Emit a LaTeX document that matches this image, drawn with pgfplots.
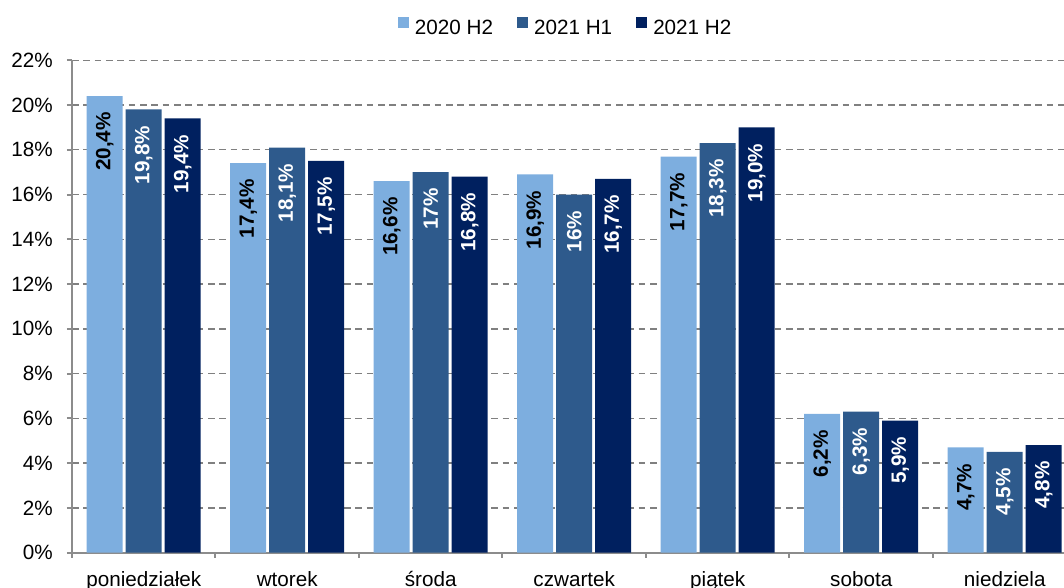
\documentclass[border=0pt]{standalone}
\usepackage{fontspec}
\setmainfont{Liberation Sans}
\usepackage{pgfplots}
\usepackage{pgfplotstable}
\pgfplotsset{compat=1.18}

\definecolor{cA}{HTML}{7DAEDF}
\definecolor{cB}{HTML}{2E5A8C}
\definecolor{cC}{HTML}{00205F}
\definecolor{gridgray}{HTML}{808080}
\definecolor{axisgray}{HTML}{8C8C8C}

% share of transactions by weekday, in percent; l* columns hold the printed labels
\pgfplotstableread{
x a    la   b    lb   c    lc
0 20.4 20,4 19.8 19,8 19.4 19,4
1 17.4 17,4 18.1 18,1 17.5 17,5
2 16.6 16,6 17.0 17   16.8 16,8
3 16.9 16,9 16.0 16   16.7 16,7
4 17.7 17,7 18.3 18,3 19.0 19,0
5 6.2  6,2  6.3  6,3  5.9  5,9
6 4.7  4,7  4.5  4,5  4.8  4,8
}\days

\begin{document}
\begin{tikzpicture}
\useasboundingbox (0,0) rectangle (798pt,441pt);
\begin{axis}[
  at={(54pt,26.5pt)}, anchor=south west,
  scale only axis, width=744pt, height=369.3pt,
  ymin=0, ymax=22, xmin=-0.5, xmax=6.413,
  ybar=2.25pt, bar width=27pt,
  axis x line*=bottom, axis y line*=left,
  axis line style={axisgray, line width=1.5pt, -},
  font=\fontsize{15.5}{18}\selectfont,
  ytick={0,2,...,22},
  /pgf/number format/assume math mode=true,
  yticklabel={\pgfmathprintnumber{\tick}\%},
  xtick={0,...,6},
  xticklabels={poniedziałek,wtorek,środa,czwartek,piątek,sobota,niedziela},
  minor xtick={-0.5,0.5,...,5.5},
  tick align=outside,
  major tick length=3.75pt, minor tick length=3.75pt,
  tick style={axisgray, line width=1.5pt},
  major x tick style={draw=none},
  yticklabel style={anchor=east, inner sep=0pt, xshift=-10.5pt},
  xticklabel style={anchor=north, inner sep=0pt, yshift=-10pt},
  ymajorgrids,
  grid style={gridgray, line width=1pt, dash pattern=on 5pt off 3.5pt},
  point meta=explicit symbolic,
  nodes near coords={\pgfplotspointmeta\%},
  every node near coord/.append style={rotate=90, anchor=east,
    inner xsep=12pt, inner ysep=0pt,
    font=\fontsize{15.5}{18}\selectfont\bfseries},
  legend columns=3,
  legend style={at={(0.498,1.0656)}, anchor=center, draw=none, fill=none,
    font=\fontsize{15.5}{18}\selectfont,
    /tikz/every odd column/.append style={column sep=2.5pt},
    /tikz/every even column/.append style={column sep=16pt}},
  legend image code/.code={\fill[#1] (0pt,0.5pt) rectangle (8.25pt,8.75pt);},
]
\addplot[fill=cA, draw=none, every node near coord/.append style={text=black}]
  table[x=x, y=a, meta=la] {\days};
\addplot[fill=cB, draw=none, every node near coord/.append style={text=white}]
  table[x=x, y=b, meta=lb] {\days};
\addplot[fill=cC, draw=none, every node near coord/.append style={text=white}]
  table[x=x, y=c, meta=lc] {\days};
\legend{2020 H2, 2021 H1, 2021 H2}
\end{axis}
\end{tikzpicture}
\end{document}
